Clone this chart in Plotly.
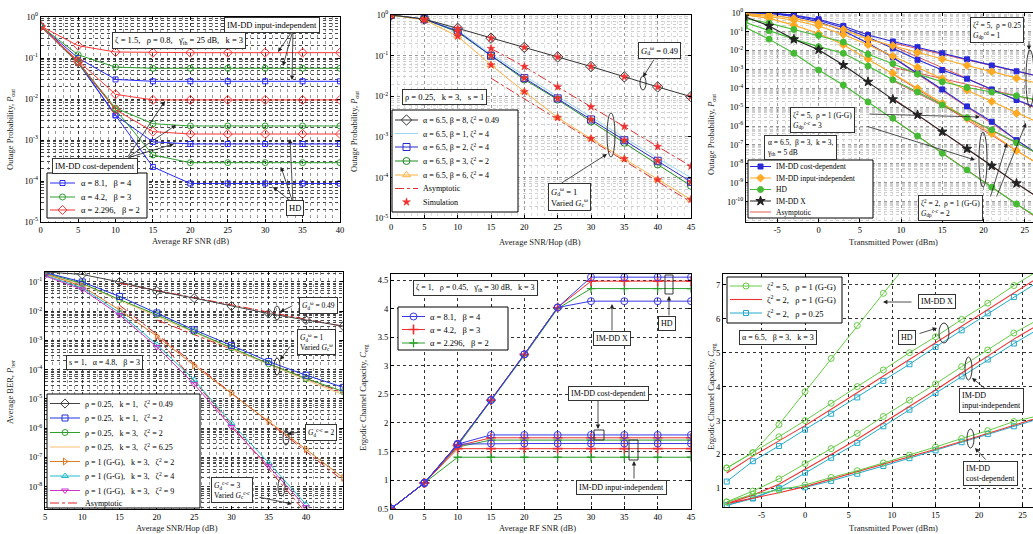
import plotly.graph_objects as go

W, H = 1033, 534
SERIF = "Liberation Serif"
SP = ",\u00a0\u00a0 "   # wide separator used in the LaTeX-style labels

# ================= Panel 1: outage vs average RF SNR =================
p1_snr = [0, 5, 10, 15, 20, 25, 30, 35, 40]
p1_blue_input_indep = [0.6, 0.1, 0.03, 0.027, 0.027, 0.027, 0.027, 0.027, 0.027]
p1_blue_cost_dep = [0.6, 0.08, 4.0e-3, 9.0e-4, 8.0e-4, 8.0e-4, 8.0e-4, 8.0e-4, 8.0e-4]
p1_blue_hd = [0.6, 0.075, 4.0e-3, 2.2e-4, 8.7e-5, 8.7e-5, 8.7e-5, 8.7e-5, 8.7e-5]
p1_green_input_indep = [0.6, 0.12, 0.06, 0.056, 0.056, 0.056, 0.056, 0.056, 0.056]
p1_green_cost_dep = [0.6, 0.08, 6.0e-3, 2.5e-3, 2.2e-3, 2.2e-3, 2.2e-3, 2.2e-3, 2.2e-3]
p1_green_hd = [0.6, 0.075, 5.5e-3, 4.3e-4, 2.8e-4, 2.8e-4, 2.8e-4, 2.8e-4, 2.8e-4]
p1_red_input_indep = [0.6, 0.2, 0.14, 0.135, 0.135, 0.135, 0.135, 0.135, 0.135]
p1_red_cost_dep = [0.6, 0.085, 0.013, 9.5e-3, 9.5e-3, 9.5e-3, 9.5e-3, 9.5e-3, 9.5e-3]
p1_red_hd = [0.6, 0.08, 5.5e-3, 1.6e-3, 1.4e-3, 1.4e-3, 1.4e-3, 1.4e-3, 1.4e-3]
p1_legend = ["α = 8.1" + SP + "β = 4", "α = 4.2" + SP + "β = 3", "α = 2.296" + SP + "β = 2"]

# ================= Panel 2: outage vs average SNR/hop =================
p2_snr = [0, 5, 10, 15, 20, 25, 30, 35, 40, 45]
p2_b8_z049 = [1.0, 0.79, 0.47, 0.27, 0.16, 0.093, 0.054, 0.030, 0.017, 0.0098]
p2_b1_z4 = [1.0, 0.79, 0.42, 0.11, 0.032, 0.010, 3.0e-3, 9.3e-4, 3.0e-4, 1.0e-4]
p2_b2_z4 = [1.0, 0.79, 0.40, 0.10, 0.028, 8.9e-3, 2.7e-3, 8.3e-4, 2.6e-4, 7.9e-5]
p2_b3_z2 = [1.0, 0.79, 0.38, 0.10, 0.026, 8.3e-3, 2.4e-3, 7.2e-4, 2.1e-4, 6.3e-5]
p2_b6_z4 = [1.0, 0.76, 0.30, 0.059, 0.013, 3.0e-3, 9.1e-4, 2.9e-4, 8.9e-5, 2.9e-5]
p2_asym_snr = [15, 20, 25, 30, 35, 40, 45]
p2_asym_upper = [0.15, 0.054, 0.017, 5.5e-3, 1.8e-3, 5.8e-4, 1.9e-4]
p2_asym_lower_snr = [15, 45]
p2_asym_lower = [0.028, 2.5e-5]
p2_legend = ["α = 6.5, β = 8, ζ<sup>2</sup> = 0.49", "α = 6.5, β = 1, ζ<sup>2</sup> = 4",
             "α = 6.5, β = 2, ζ<sup>2</sup> = 4", "α = 6.5, β = 3, ζ<sup>2</sup> = 2",
             "α = 6.5, β = 6, ζ<sup>2</sup> = 4", "Asymptotic", "Simulation"]

# ================= Panel 3: outage vs transmitted power =================
p3_pt = [-9, -6, -3, 0, 3, 6, 9, 12, 15, 18, 21, 24, 27]
p3_cost_a = [1.0, 0.98, 0.76, 0.45, 0.2, 0.066, 0.03, 0.015, 7.1e-3, 3.4e-3, 1.6e-3, 7.9e-4, 4.0e-4]
p3_input_a = [0.89, 0.76, 0.5, 0.28, 0.13, 0.04, 0.018, 7.9e-3, 3.5e-3, 1.6e-3, 7.6e-4, 3.4e-4, 1.6e-4]
p3_hd_a = [0.5, 0.28, 0.13, 0.063, 0.028, 6.3e-3, 2.0e-3, 5.6e-4, 2.2e-4, 1.1e-4, 6.3e-5, 4.0e-5, 2.2e-5]
p3_cost_b = [1.0, 0.95, 0.71, 0.4, 0.16, 0.05, 0.013, 3.2e-3, 9.3e-4, 3.2e-4, 8.7e-5, 2.4e-5, 7.9e-6]
p3_input_b = [0.83, 0.63, 0.4, 0.2, 0.071, 0.02, 5.0e-3, 1.3e-3, 3.2e-4, 7.9e-5, 2.0e-5, 4.7e-6, 1.3e-6]
p3_hd_b = [0.32, 0.11, 0.04, 0.016, 7.1e-3, 1.5e-3, 2.8e-4, 6.3e-5, 1.3e-5, 2.8e-6, 6.3e-7, 1.3e-7, 2.8e-8]
p3_cost_c = [1.0, 0.93, 0.63, 0.33, 0.11, 0.024, 4.4e-3, 6.2e-4, 8.7e-5, 1.1e-5, 1.7e-6, 1.8e-7, 2.5e-8]
p3_input_c = [0.79, 0.5, 0.22, 0.079, 0.02, 3.5e-3, 6.3e-4, 1.0e-4, 1.6e-5, 2.5e-6, 4.0e-7, 5.0e-8, 7.9e-9]
p3_imdd_x = [0.63, 0.2, 0.039, 0.011, 1.7e-3, 2.2e-4, 2.6e-5, 3.9e-6, 5.0e-7, 6.2e-8, 7.9e-9, 9.3e-10, 1.3e-10]
p3_hd_c = [0.18, 0.04, 7.1e-3, 9.3e-4, 1.5e-4, 1.9e-5, 2.6e-6, 3.0e-7, 3.6e-8, 4.8e-9, 5.8e-10, 7.6e-11, 1.1e-11]
p3_asym_pt = [9, 27]
p3_asym_lines = [[0.025, 4.0e-4], [1.3e-3, 2.0e-5], [0.017, 6.5e-6], [4.1e-3, 2.5e-8],
                 [3.0e-5, 1.2e-10], [2.4e-6, 9.5e-12], [5.6e-4, 7.8e-9], [2.5e-4, 2.8e-8]]
p3_legend = ["IM-DD cost-dependent", "IM-DD input-independent", "HD", "IM-DD X", "Asymptotic"]

# ================= Panel 4: BER vs average SNR/hop =================
p4_snr = [5, 10, 15, 20, 25, 30, 35, 40, 45]
p4_k1_z049 = [0.22, 0.18, 0.1, 0.049, 0.028, 0.015, 8.3e-3, 5.0e-3, 3.1e-3]
p4_k1_z2 = [0.21, 0.1, 0.032, 8.7e-3, 2.3e-3, 6.8e-4, 1.9e-4, 6.5e-5, 2.5e-5]
p4_k3_z2 = [0.2, 0.089, 0.025, 7.6e-3, 2.0e-3, 5.6e-4, 1.6e-4, 5.0e-5, 1.8e-5]
p4_k3_z625 = [0.18, 0.083, 0.024, 6.9e-3, 1.9e-3, 5.2e-4, 1.5e-4, 4.5e-5, 1.4e-5]
p4_gg_z2 = [0.19, 0.071, 0.011, 1.4e-3, 1.4e-4, 1.6e-5, 1.7e-6, 1.9e-7, 2.0e-8]
p4_snr_short = [5, 10, 15, 20, 25, 30, 35, 40]
p4_gg_z4 = [0.17, 0.063, 8.9e-3, 7.2e-4, 4.5e-5, 1.5e-6, 6.6e-8, 2.5e-9]
p4_gg_z9 = [0.16, 0.056, 7.4e-3, 6.0e-4, 3.2e-5, 1.1e-6, 5.0e-8, 2.0e-9]
p4_asym_snr = [[15, 45], [20, 45], [15, 45], [20, 39.5]]
p4_asym_vals = [[0.09, 3.0e-3], [5.0e-3, 1.6e-5], [0.016, 1.6e-8], [1.3e-3, 1.8e-9]]
p4_legend = ["ρ = 0.25" + SP + "k = 1" + SP + "ζ<sup>2</sup> = 0.49", "ρ = 0.25" + SP + "k = 1" + SP + "ζ<sup>2</sup> = 2",
             "ρ = 0.25" + SP + "k = 3" + SP + "ζ<sup>2</sup> = 2", "ρ = 0.25" + SP + "k = 3" + SP + "ζ<sup>2</sup> = 6.25",
             "ρ = 1 (G-G)" + SP + "k = 3" + SP + "ζ<sup>2</sup> = 2", "ρ = 1 (G-G)" + SP + "k = 3" + SP + "ζ<sup>2</sup> = 4",
             "ρ = 1 (G-G)" + SP + "k = 3" + SP + "ζ<sup>2</sup> = 9", "Asymptotic"]

# ================= Panel 5: capacity vs average RF SNR =================
p5_snr = [0, 5, 10, 15, 20, 25, 30, 35, 40, 45]
p5_blue_hd = [0.5, 0.95, 1.63, 2.4, 3.2, 4.02, 4.55, 4.55, 4.55, 4.55]
p5_red_hd = [0.5, 0.95, 1.62, 2.4, 3.2, 4.02, 4.48, 4.48, 4.48, 4.48]
p5_green_hd = [0.5, 0.95, 1.6, 2.38, 3.18, 4.0, 4.35, 4.35, 4.35, 4.35]
p5_blue_x = [0.5, 0.95, 1.63, 2.4, 3.2, 4.02, 4.13, 4.13, 4.13, 4.13]
p5_blue_cost = [0.5, 0.95, 1.63, 1.79, 1.79, 1.79, 1.79, 1.79, 1.79, 1.79]
p5_red_cost = [0.5, 0.95, 1.6, 1.74, 1.74, 1.74, 1.74, 1.74, 1.74, 1.74]
p5_green_cost = [0.5, 0.95, 1.58, 1.70, 1.70, 1.70, 1.70, 1.70, 1.70, 1.70]
p5_blue_input = [0.5, 0.95, 1.63, 1.64, 1.64, 1.64, 1.64, 1.64, 1.64, 1.64]
p5_red_input = [0.5, 0.95, 1.55, 1.55, 1.55, 1.55, 1.55, 1.55, 1.55, 1.55]
p5_green_input = [0.5, 0.95, 1.40, 1.40, 1.40, 1.40, 1.40, 1.40, 1.40, 1.40]
p5_legend = ["α = 8.1" + SP + "β = 4", "α = 4.2" + SP + "β = 3", "α = 2.296" + SP + "β = 2"]

# ================= Panel 6: capacity vs transmitted power =================
p6_pt = [-9, -6, -3, 0, 3, 6, 9, 12, 15, 18, 21, 24, 27]
p6_pt_x = [-9, -6, -3, 0, 3, 6, 9, 12]
p6_green_x = [1.6, 2.05, 2.88, 3.85, 4.83, 5.8, 6.75, 7.7]
p6_green_hd = [1.6, 2.05, 2.52, 3.0, 3.51, 4.0, 4.49, 5.0, 5.47, 5.98, 6.46, 6.98, 7.45]
p6_red_hd = [1.45, 1.95, 2.4, 2.85, 3.33, 3.82, 4.3, 4.8, 5.28, 5.78, 6.27, 6.77, 7.25]
p6_cyan_hd = [1.2, 1.8, 2.25, 2.73, 3.2, 3.68, 4.17, 4.66, 5.17, 5.66, 6.16, 6.64, 7.12]
p6_green_input = [0.6, 0.92, 1.28, 1.73, 2.17, 2.62, 3.12, 3.6, 4.08, 4.59, 5.08, 5.58, 6.0]
p6_red_input = [0.55, 0.8, 1.12, 1.55, 2.0, 2.45, 2.93, 3.42, 3.9, 4.4, 4.9, 5.4, 5.85]
p6_cyan_input = [0.5, 0.72, 1.0, 1.46, 1.9, 2.34, 2.83, 3.32, 3.81, 4.3, 4.8, 5.27, 5.72]
p6_green_cost = [0.6, 0.82, 0.95, 1.1, 1.32, 1.52, 1.75, 1.98, 2.22, 2.47, 2.7, 2.97, 3.15]
p6_red_cost = [0.55, 0.7, 0.87, 1.05, 1.27, 1.47, 1.69, 1.92, 2.15, 2.38, 2.62, 2.87, 3.1]
p6_cyan_cost = [0.5, 0.7, 1.0, 1.03, 1.22, 1.43, 1.66, 1.89, 2.12, 2.36, 2.6, 2.83, 3.06]
p6_legend = ["ζ<sup>2</sup> = 5" + SP + "ρ = 1 (G-G)", "ζ<sup>2</sup> = 2" + SP + "ρ = 1 (G-G)",
             "ζ<sup>2</sup> = 2" + SP + "ρ = 0.25"]

# ================= figure geometry (pixels) =================
panels = {
    1: dict(px=(40.7, 340), py=(17, 222), xr=[0, 40], yr=[-5, 0], log=True, style="heavy",
            xt=[0, 5, 10, 15, 20, 25, 30, 35, 40], yt=[0, -1, -2, -3, -4, -5], mirror=True),
    2: dict(px=(391, 691), py=(15, 218.3), xr=[0, 45], yr=[-5, 0], log=True, style="light",
            xt=[0, 5, 10, 15, 20, 25, 30, 35, 40, 45], yt=[0, -1, -2, -3, -4, -5], mirror=True),
    3: dict(px=(746, 1033), py=(12.7, 221.7), xr=[-8.8, 26.0], yr=[-11.06, 0], log=True, style="light",
            xt=[-5, 0, 5, 10, 15, 20, 25], yt=[0, -1, -2, -3, -4, -5, -6, -7, -8, -9, -10], mirror=False),
    4: dict(px=(45, 343.3), py=(272, 508.7), xr=[5, 45], yr=[-8.75, -0.66], log=True, style="heavy",
            xt=[5, 10, 15, 20, 25, 30, 35, 40], yt=[-1, -2, -3, -4, -5, -6, -7, -8], mirror=True),
    5: dict(px=(391, 691), py=(274.3, 508.7), xr=[0, 45], yr=[0.5, 4.6], log=False, style="lin",
            xt=[0, 5, 10, 15, 20, 25, 30, 35, 40, 45], yt=[0.5, 1, 1.5, 2, 2.5, 3, 3.5, 4, 4.5], mirror=True),
    6: dict(px=(723, 1033), py=(274, 507), xr=[-9.43, 26.2], yr=[0.45, 7.32], log=False, style="lin",
            xt=[-5, 0, 5, 10, 15, 20, 25], yt=[1, 2, 3, 4, 5, 6, 7], mirror=False),
}


def ids(i):
    return ("x" if i == 1 else f"x{i}"), ("y" if i == 1 else f"y{i}")


fig = go.Figure()

tickfont = dict(family=SERIF, size=8.5, color="black")
layout = {}
for i, p in panels.items():
    xk = "xaxis" if i == 1 else f"xaxis{i}"
    yk = "yaxis" if i == 1 else f"yaxis{i}"
    xid, yid = ids(i)
    if p["style"] == "heavy":
        gmaj, gmin, gminx = "#333333", "#4a4a4a", "#999999"
    elif p["style"] == "light":
        gmaj, gmin, gminx = "#9a9a9a", "#cfcfcf", "#dddddd"
    else:
        gmaj, gmin, gminx = "#333333", None, None
    common = dict(showline=True, linecolor="black", linewidth=1, ticks="inside", ticklen=3,
                  tickcolor="black", showgrid=True, gridcolor=gmaj, griddash="dot", gridwidth=0.8,
                  zeroline=False, tickfont=tickfont, automargin=False, fixedrange=True)
    xa = dict(common, domain=[p["px"][0] / W, p["px"][1] / W], range=p["xr"], anchor=yid,
              tickmode="array", tickvals=p["xt"], ticktext=[str(v) for v in p["xt"]], mirror="ticks")
    ya = dict(common, domain=[1 - p["py"][1] / H, 1 - p["py"][0] / H], range=p["yr"], anchor=xid,
              mirror="ticks" if p["mirror"] else False)
    if p["log"]:
        ya.update(type="log", tickmode="array", tickvals=[10 ** e for e in p["yt"]],
                  ticktext=[f"10<sup>{e}</sup>" for e in p["yt"]])
        ya["minor"] = dict(dtick="D1", showgrid=True, gridcolor=gmin, griddash="dot", gridwidth=0.6)
        xa["minor"] = dict(dtick=1, showgrid=True, gridcolor=gminx, griddash="dot", gridwidth=0.5)
    else:
        ya.update(tickmode="array", tickvals=p["yt"], ticktext=[("%g" % v) for v in p["yt"]])
    layout[xk] = xa
    layout[yk] = ya

# overlay pixel axes for legends / annotations
layout["xaxis7"] = dict(domain=[0, 1], range=[0, W], visible=False, fixedrange=True, anchor="y7")
layout["yaxis7"] = dict(domain=[0, 1], range=[H, 0], visible=False, fixedrange=True, anchor="x7")


def curve(i, x, y, color, symbol=None, size=6, width=1.0, dash="solid", mode=None, lw=1.0):
    xid, yid = ids(i)
    if mode is None:
        mode = "lines+markers" if symbol else "lines"
    kw = dict(x=x, y=y, mode=mode, xaxis=xid, yaxis=yid, showlegend=False, hoverinfo="skip",
              line=dict(color=color, width=width, dash=dash))
    if symbol:
        kw["marker"] = dict(symbol=symbol, size=size, color=color, line=dict(color=color, width=lw))
    fig.add_trace(go.Scatter(**kw))


# ---- Panel 1 ----
C1 = dict(blue="#2b2bff", green="#2e9e2e", red="#ff3535")
S1 = dict(blue=("square-open", 5), green=("circle-open", 6), red=("diamond-open", 7))
for col, series in [("blue", [p1_blue_input_indep, p1_blue_cost_dep, p1_blue_hd]),
                    ("green", [p1_green_input_indep, p1_green_cost_dep, p1_green_hd]),
                    ("red", [p1_red_input_indep, p1_red_cost_dep, p1_red_hd])]:
    for s in series:
        curve(1, p1_snr, s, C1[col], S1[col][0], S1[col][1])

# ---- Panel 2 ----
curve(2, p2_asym_snr, p2_asym_upper, "#e03030", width=1, dash="dashdot")
curve(2, p2_asym_lower_snr, p2_asym_lower, "#e03030", width=1, dash="dashdot")
curve(2, p2_snr, p2_b1_z4, "#8fd0f0", width=0.9)
curve(2, p2_snr, p2_b3_z2, "#1f8a1f", "circle-open", 7)
curve(2, p2_snr, p2_b2_z4, "#2a2acc", "square-open", 7)
curve(2, p2_snr, p2_b6_z4, "#ffb040", "triangle-up-open", 7)
curve(2, p2_snr, p2_b8_z049, "#333333", "diamond-open", 8)
for s in [p2_b8_z049, p2_b2_z4, p2_b6_z4]:
    curve(2, p2_snr, s, "#ee3030", "star", 6, mode="markers", lw=0.5)
curve(2, p2_asym_snr, p2_asym_upper, "#ee3030", "star", 6, mode="markers", lw=0.5)

# ---- Panel 3 ----
for a in p3_asym_lines:
    curve(3, p3_asym_pt, a, "#e04848", width=0.9)
for s in [p3_cost_a, p3_cost_b, p3_cost_c]:
    curve(3, p3_pt, s, "#2828d8", "square", 5, width=1.1)
for s in [p3_input_a, p3_input_b, p3_input_c]:
    curve(3, p3_pt, s, "#ffaa22", "diamond", 6, width=1.1)
for s in [p3_hd_a, p3_hd_b, p3_hd_c]:
    curve(3, p3_pt, s, "#44bb33", "circle", 6, width=1.1)
curve(3, p3_pt, p3_imdd_x, "#222222", "star", 7, width=1.1)

# ---- Panel 4 ----
for xs, vs in zip(p4_asym_snr, p4_asym_vals):
    curve(4, xs, vs, "#e02020", width=1, dash="dashdot")
curve(4, p4_snr, p4_k3_z625, "#f7c98b", width=1.2)
curve(4, p4_snr, p4_k3_z2, "#2e9e2e", "circle-open", 6)
curve(4, p4_snr, p4_k1_z2, "#2233dd", "square-open", 6)
curve(4, p4_snr, p4_gg_z2, "#dd7a22", "triangle-right-open", 6)
curve(4, p4_snr_short, p4_gg_z4, "#22bbcc", "triangle-up-open", 6)
curve(4, p4_snr_short, p4_gg_z9, "#cc33cc", "triangle-down-open", 6)
curve(4, p4_snr, p4_k1_z049, "#444444", "diamond-open", 7)

# ---- Panel 5 ----
C5 = dict(blue="#3a3ae8", red="#f03030", green="#2ca02c")
S5 = dict(blue=("circle-open", 7, 1.0), red=("cross-thin-open", 7, 1.6), green=("cross-thin-open", 6, 1.3))
for col, series in [("green", [p5_green_hd, p5_green_cost, p5_green_input]),
                    ("red", [p5_red_hd, p5_red_cost, p5_red_input]),
                    ("blue", [p5_blue_hd, p5_blue_x, p5_blue_cost, p5_blue_input])]:
    for s in series:
        curve(5, p5_snr, s, C5[col], S5[col][0], S5[col][1], lw=S5[col][2])

# ---- Panel 6 ----
for s in [p6_cyan_hd, p6_cyan_input, p6_cyan_cost]:
    curve(6, p6_pt, s, "#22aacc", "square-open", 5)
for s in [p6_red_hd, p6_red_input, p6_red_cost]:
    curve(6, p6_pt, s, "#ee3333", width=1.1)
for s in [p6_green_hd, p6_green_input, p6_green_cost]:
    curve(6, p6_pt, s, "#66cc44", "circle-open", 6)
curve(6, p6_pt_x, p6_green_x, "#66cc44", "circle-open", 6)

# ================= overlay: legends, boxes, arrows =================
annotations = []
shapes = []


def legend(box, rows_y, x0, x1, tx, entries, size=8):
    bx0, by0, bx1, by1 = box
    fig.add_trace(go.Scatter(x=[bx0, bx1, bx1, bx0, bx0], y=[by0, by0, by1, by1, by0], mode="lines",
                             fill="toself", fillcolor="white", line=dict(color="black", width=1),
                             xaxis="x7", yaxis="y7", showlegend=False, hoverinfo="skip"))
    for yy, (text, st) in zip(rows_y, entries):
        xm = (x0 + x1) / 2
        if st.get("line", True):
            fig.add_trace(go.Scatter(x=[x0, x1], y=[yy, yy], mode="lines", xaxis="x7", yaxis="y7",
                                     line=dict(color=st["color"], width=st.get("width", 1), dash=st.get("dash", "solid")),
                                     showlegend=False, hoverinfo="skip"))
        if st.get("symbol"):
            fig.add_trace(go.Scatter(x=[xm], y=[yy], mode="markers", xaxis="x7", yaxis="y7",
                                     marker=dict(symbol=st["symbol"], size=st.get("size", 6), color=st["color"],
                                                 line=dict(color=st["color"], width=st.get("lw", 1))),
                                     showlegend=False, hoverinfo="skip"))
        annotations.append(dict(x=tx, y=yy, xref="x7", yref="y7", text=text, showarrow=False, xanchor="left",
                                yanchor="middle", font=dict(family=SERIF, size=size, color="black")))


legend((47, 173, 147, 218), [183, 197, 210], 50, 75, 79, [
    (p1_legend[0], dict(color=C1["blue"], symbol="square-open", size=5)),
    (p1_legend[1], dict(color=C1["green"], symbol="circle-open", size=6)),
    (p1_legend[2], dict(color=C1["red"], symbol="diamond-open", size=7))], size=8.5)

legend((392, 110, 518, 212), [120, 133.5, 147, 161, 175, 188.5, 202], 395, 418, 421, [
    (p2_legend[0], dict(color="#333333", symbol="diamond-open", size=8)),
    (p2_legend[1], dict(color="#8fd0f0", width=0.9)),
    (p2_legend[2], dict(color="#2a2acc", symbol="square-open", size=7)),
    (p2_legend[3], dict(color="#1f8a1f", symbol="circle-open", size=7)),
    (p2_legend[4], dict(color="#ffb040", symbol="triangle-up-open", size=7)),
    (p2_legend[5], dict(color="#e03030", dash="dashdot")),
    (p2_legend[6], dict(color="#ee3030", symbol="star", size=6, line=False, lw=0.5))], size=8)

legend((748, 160, 873, 218), [166.5, 178, 189.5, 201, 212], 750, 771, 774, [
    (p3_legend[0], dict(color="#2828d8", symbol="square", size=5)),
    (p3_legend[1], dict(color="#ffaa22", symbol="diamond", size=6)),
    (p3_legend[2], dict(color="#44bb33", symbol="circle", size=6)),
    (p3_legend[3], dict(color="#222222", symbol="star", size=7)),
    (p3_legend[4], dict(color="#e04848", width=0.9))], size=7.5)

legend((47, 394, 200, 508), [403.5, 418, 432.5, 447, 461.5, 476, 490.5, 503], 50, 80, 83, [
    (p4_legend[0], dict(color="#444444", symbol="diamond-open", size=7)),
    (p4_legend[1], dict(color="#2233dd", symbol="square-open", size=6)),
    (p4_legend[2], dict(color="#2e9e2e", symbol="circle-open", size=6)),
    (p4_legend[3], dict(color="#f7c98b", width=1.2)),
    (p4_legend[4], dict(color="#dd7a22", symbol="triangle-right-open", size=6)),
    (p4_legend[5], dict(color="#22bbcc", symbol="triangle-up-open", size=6)),
    (p4_legend[6], dict(color="#cc33cc", symbol="triangle-down-open", size=6)),
    (p4_legend[7], dict(color="#e02020", dash="dashdot"))], size=8)

legend((398, 307, 508, 350), [316.5, 329.5, 343], 402, 425, 428, [
    (p5_legend[0], dict(color=C5["blue"], symbol="circle-open", size=7)),
    (p5_legend[1], dict(color=C5["red"], symbol="cross-thin-open", size=7, lw=1.6)),
    (p5_legend[2], dict(color=C5["green"], symbol="cross-thin-open", size=6, lw=1.3))], size=8.5)

legend((727, 277, 842, 323), [286, 299.5, 313], 730, 762, 765, [
    (p6_legend[0], dict(color="#66cc44", symbol="circle-open", size=6)),
    (p6_legend[1], dict(color="#ee3333", width=1.1)),
    (p6_legend[2], dict(color="#22aacc", symbol="square-open", size=5))], size=8.5)


def arrow(hx, hy, tx, ty):
    annotations.append(dict(x=hx, y=hy, ax=tx, ay=ty, xref="x7", yref="y7", axref="x7", ayref="y7",
                            text="", showarrow=True, arrowhead=2, arrowsize=1.1, arrowwidth=0.8,
                            arrowcolor="#222222", standoff=0, startstandoff=0))


def tbox(x, y, text, size=8.5, align="center"):
    annotations.append(dict(x=x, y=y, xref="x7", yref="y7", text=text, showarrow=False,
                            font=dict(family=SERIF, size=size, color="black"), bgcolor="white",
                            bordercolor="#333333", borderwidth=1, borderpad=2, align=align))


def ellipse(x0, y0, x1, y1):
    shapes.append(dict(type="circle", xref="x7", yref="y7", x0=x0, x1=x1, y0=y0, y1=y1,
                       line=dict(color="#222222", width=0.9), layer="above"))


def rect(x0, y0, x1, y1):
    shapes.append(dict(type="rect", xref="x7", yref="y7", x0=x0, x1=x1, y0=y0, y1=y1,
                       line=dict(color="#222222", width=0.9), layer="above"))


Gw = "<i>G</i><sub>d</sub><sup>ω</sup>"
# panel 1
for h in [(278, 52), (283, 66), (292, 80)]:
    arrow(h[0], h[1], 293, 30)
for h in [(165, 101), (176, 125), (174, 144)]:
    arrow(h[0], h[1], 127, 158)
for h in [(290, 139), (281, 167), (273, 187)]:
    arrow(h[0], h[1], 293, 203)
tbox(272, 25, "IM-DD input-independent")
tbox(179, 40, "ζ = 1.5" + SP + "ρ = 0.8" + SP + "γ̄<sub>th</sub> = 25 dB" + SP + "k = 3")
tbox(95, 166, "IM-DD cost-dependent")
tbox(295, 208, "HD")
# panel 2
arrow(643, 77, 655, 58)
ellipse(640, 76, 646, 90)
arrow(607, 154, 560, 184)
ellipse(607, 113, 615, 157)
tbox(659, 50, Gw + " = 0.49")
tbox(444, 97, "ρ = 0.25" + SP + "k = 3" + SP + "s = 1")
tbox(569, 197, Gw + " = 1<br>Varied <i>G</i><sub>c</sub><sup>ω</sup>", align="left")
# panel 3
arrow(1029, 50, 1029, 40)
ellipse(1026, 50, 1034, 107)
arrow(980, 117, 868, 114)
arrow(975, 160, 866, 126)
ellipse(979, 132, 987, 187)
arrow(1007, 143, 990, 198)
arrow(1026, 123, 996, 198)
tbox(997, 30, "ζ<sup>2</sup> = 5,  ρ = 0.25<br><i>G</i><sub>dp</sub><sup>cd</sup> = 1", size=7.5, align="left")
tbox(822, 120, "ζ<sup>2</sup> = 5,  ρ = 1 (G-G)<br><i>G</i><sub>dp</sub><sup>c-c</sup> = 3", size=7.5, align="left")
tbox(800, 147, "α = 6.5,  β = 3,  k = 3,<br>γ<sub>th</sub> = 5 dB", size=7.5, align="left")
tbox(950, 208, "ζ<sup>2</sup> = 2,  ρ = 1 (G-G)<br><i>G</i><sub>dp</sub><sup>c-c</sup> = 2", size=7.5, align="left")
# panel 4
arrow(280, 312, 294, 305)
ellipse(274, 306, 280, 320)
arrow(280, 360, 291, 345)
ellipse(274, 358, 280, 375)
arrow(287, 434, 300, 432)
ellipse(283, 430, 289, 445)
arrow(292, 504, 258, 497)
ellipse(278, 478, 285, 496)
tbox(318, 305, Gw + " = 0.49", size=7.5)
tbox(316, 342, Gw + " = 1<br>Varied <i>G</i><sub>c</sub><sup>ω</sup>", size=7.5, align="left")
tbox(104, 362, "s = 1" + SP + "α = 4.8" + SP + "β = 3", size=8)
tbox(321, 432, "<i>G</i><sub>d</sub><sup>c-c</sup> = 2", size=7.5)
tbox(232, 490, "<i>G</i><sub>d</sub><sup>c-c</sup> = 3<br>Varied <i>G</i><sub>c</sub><sup>c-c</sup>", size=7.5, align="left")
# panel 5
arrow(669, 296, 669, 317)
rect(665, 275, 673, 294)
arrow(612, 304, 612, 332)
arrow(598, 429, 598, 399)
rect(594, 430, 604, 440)
arrow(634, 461, 634, 480)
rect(629, 440, 638, 460)
tbox(475, 288, "ζ = 1" + SP + "ρ = 0.45" + SP + "γ̄<sub>th</sub> = 30 dB" + SP + "k = 3", size=8)
tbox(667, 323, "HD", size=8)
tbox(612, 338, "IM-DD X", size=8)
tbox(608, 393, "IM-DD cost-dependent", size=8)
tbox(621, 487, "IM-DD input-independent", size=8)
# panel 6
arrow(883, 302, 913, 302)
arrow(937, 328, 918, 334)
ellipse(939, 323, 949, 343)
arrow(972, 378, 987, 390)
ellipse(965, 357, 972, 380)
arrow(975, 448, 987, 461)
ellipse(967, 429, 974, 448)
tbox(778, 337, "α = 6.5" + SP + "β = 3" + SP + "k = 3", size=8)
tbox(937, 301, "IM-DD X", size=8)
tbox(907, 337, "HD", size=8)
tbox(991, 400, "IM-DD<br>input-independent", size=8, align="left")
tbox(990, 473, "IM-DD<br>cost-dependent", size=8, align="left")

# axis titles
TF = dict(family=SERIF, size=8.5, color="#222222")
xtitles = [(190, 241, "Average RF SNR (dB)"), (540, 242, "Average SNR/Hop (dB)"),
           (893, 242, "Transmitted Power (dBm)"), (177, 528, "Average SNR/Hop (dB)"),
           (537, 528, "Average RF SNR (dB)"), (893, 528, "Transmitted Power (dBm)")]
ytitles = [(10, 130, "Outage Probability, <i>P</i><sub>out</sub>"),
           (354, 132, "Outage Probability, <i>P</i><sub>out</sub>"),
           (711, 135, "Outage Probability, <i>P</i><sub>out</sub>"),
           (10, 392, "Average BER, <i>P</i><sub>ber</sub>"),
           (363, 398, "Ergodic Channel Capacity, <i>C</i><sub>erg</sub>"),
           (711, 397, "Ergodic Channel Capacity, <i>C</i><sub>erg</sub>")]
for x, y, t in xtitles:
    annotations.append(dict(x=x, y=y, xref="x7", yref="y7", text=t, showarrow=False, font=TF))
for x, y, t in ytitles:
    annotations.append(dict(x=x, y=y, xref="x7", yref="y7", text=t, showarrow=False, font=TF, textangle=-90))

fig.update_layout(width=W, height=H, margin=dict(l=0, r=0, t=0, b=0), autosize=False,
                  paper_bgcolor="white", plot_bgcolor="rgba(0,0,0,0)", showlegend=False,
                  font=dict(family=SERIF, size=8, color="black"),
                  annotations=annotations, shapes=shapes, **layout)

fig.write_html("out.html")
